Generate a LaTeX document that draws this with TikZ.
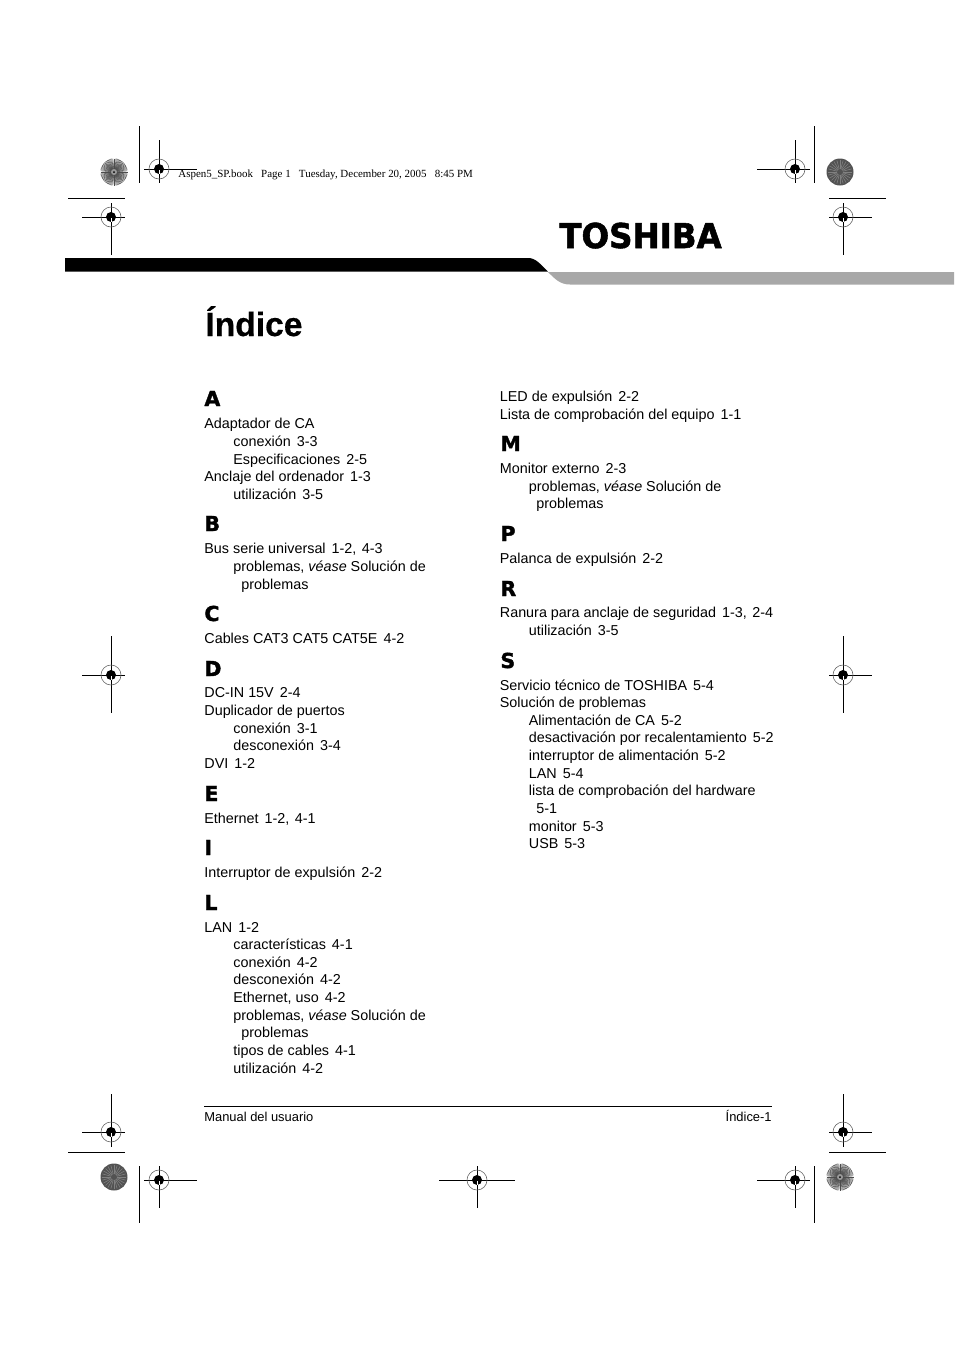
\documentclass[tikz,border=0pt]{standalone}
\usepackage{fontspec}
\setmainfont{Liberation Sans}
\newfontfamily\timesfont{Liberation Serif}
\newfontfamily\logofont[FakeBold=1.6]{DejaVu Sans Bold}
\newfontfamily\titlefont[FakeBold=0.5]{Liberation Sans Bold}
\definecolor{bargray}{HTML}{A8A8A8}
\newcommand{\pg}{\hspace{.42em}}
\newcommand{\cm}{,\hspace{.38em}}
% registration mark: x, y, left, right, up, down arm
\newcommand{\regmark}[6]{
    \draw[cropline] (#1-#3,#2) -- (#1+#4,#2);
    \draw[cropline] (#1,#2-#5) -- (#1,#2+#6);
    \draw[black!60, line width=.3pt] (#1,#2) circle (10);
    \fill (#1,#2) circle (5);
    \draw[white, line width=.25pt] (#1-5,#2) -- (#1,#2) (#1,#2) -- (#1,#2+5);
    \draw[black, line width=.35pt] (#1-5,#2) -- (#1+5,#2);
}
% target balls in the corners
\newcommand{\starball}[2]{
    \fill[white] (#1,#2) circle (13.5);
    \foreach \a in {0,5,...,355}
        \draw[black!70, line width=.26pt] (#1,#2) -- ++(\a:13.5);
    \fill[black!40] (#1,#2) circle (3);
    \fill[black] (#1,#2) circle (1);
}
\newcommand{\darkball}[2]{
    \fill[black!68] (#1,#2) circle (13.5);
    \foreach \a in {0,15,...,345}
        \draw[black!50, line width=.3pt] (#1,#2) ++(\a:3) -- ++(\a:9);
}
\tikzset{
    cropline/.style={black, line width=.5pt},
    entry/.style={anchor=base west, inner sep=0pt, font=\fontsize{7.18}{8}\selectfont},
    letter/.style={anchor=base west, inner sep=0pt, font=\logofont\fontsize{10.3}{11}\selectfont},
}
\begin{document}
\begin{tikzpicture}[x=.5pt, y=-.5pt]
    \useasboundingbox (0,0) rectangle (954,1350);

    % Header bars
    \fill (65,258) -- (528,258) .. controls (536,258) and (540,264) .. (548,271.5) -- (65,271.5) -- cycle;
    \fill[bargray] (548,272) .. controls (555,279) and (560,284.5) .. (570,284.5) -- (954,284.5) -- (954,272) -- cycle;
    \node[anchor=base west, inner sep=0pt, xscale=.95, font=\logofont\fontsize{17.1}{18}\selectfont] (logo) at (559,248) {TOSHIBA};

    % Title and print line
    \node[anchor=base west, inner sep=0pt, font=\titlefont\fontsize{16.8}{18}\selectfont] (title) at (205,336) {Índice};
    \node[anchor=base west, inner sep=0pt, font=\timesfont\fontsize{5.48}{6}\selectfont] (slug) at (178,177.5) {Aspen5\_SP.book\hspace{.5em} Page 1\hspace{.5em} Tuesday, December 20, 2005\hspace{.5em} 8:45 PM};

    % Section letters
    \foreach \x/\y/\t in {204/406/A, 204/531/B, 204/621/C, 204/676/D, 204/801/E, 204/855/I, 204/910/L,
        500/451/M, 500/541/P, 500/596/R, 500/668/S}
        \node[letter] (sec\t) at (\x,\y) {\t};

    % Left column
    \foreach \x/\y/\t [count=\i] in {
        204/428/{Adaptador de CA},
        233/446/{conexión\pg 3-3},
        233/464/{Especificaciones\pg 2-5},
        204/481/{Anclaje del ordenador\pg 1-3},
        233/499/{utilización\pg 3-5},
        204/553/{Bus serie universal\pg 1-2\cm 4-3},
        233/571/{problemas, \emph{véase} Solución de},
        241/589/{problemas},
        204/643/{Cables CAT3 CAT5 CAT5E\pg 4-2},
        204/697/{DC-IN 15V\pg 2-4},
        204/715/{Duplicador de puertos},
        233/733/{conexión\pg 3-1},
        233/750/{desconexión\pg 3-4},
        204/768/{DVI\pg 1-2},
        204/823/{Ethernet\pg 1-2\cm 4-1},
        204/877/{Interruptor de expulsión\pg 2-2},
        204/932/{LAN\pg 1-2},
        233/949/{características\pg 4-1},
        233/967/{conexión\pg 4-2},
        233/984/{desconexión\pg 4-2},
        233/1002/{Ethernet, uso\pg 4-2},
        233/1020/{problemas, \emph{véase} Solución de},
        241/1037/{problemas},
        233/1055/{tipos de cables\pg 4-1},
        233/1073/{utilización\pg 4-2}}
        \node[entry] (left\i) at (\x,\y) {\t};

    % Right column
    \foreach \x/\y/\t [count=\i] in {
        499.5/401/{LED de expulsión\pg 2-2},
        499.5/419/{Lista de comprobación del equipo\pg 1-1},
        499.5/473/{Monitor externo\pg 2-3},
        528.5/491/{problemas, \emph{véase} Solución de},
        536/508/{problemas},
        499.5/563/{Palanca de expulsión\pg 2-2},
        499.5/617/{Ranura para anclaje de seguridad\pg 1-3\cm 2-4},
        528.5/635/{utilización\pg 3-5},
        499.5/690/{Servicio técnico de TOSHIBA\pg 5-4},
        499.5/707/{Solución de problemas},
        528.5/725/{Alimentación de CA\pg 5-2},
        528.5/742/{desactivación por recalentamiento\pg 5-2},
        528.5/760/{interruptor de alimentación\pg 5-2},
        528.5/778/{LAN\pg 5-4},
        528.5/795/{lista de comprobación del hardware},
        536/813/{5-1},
        528.5/831/{monitor\pg 5-3},
        528.5/848/{USB\pg 5-3}}
        \node[entry] (right\i) at (\x,\y) {\t};

    % Footer
    \draw[cropline] (204,1106) -- (772,1106);
    \node[anchor=base west, inner sep=0pt, font=\fontsize{6.45}{7}\selectfont] (manual) at (204,1121) {Manual del usuario};
    \node[anchor=base east, inner sep=0pt, font=\fontsize{6.45}{7}\selectfont] (page) at (772,1121) {Índice-1};

    % Crop lines
    \draw[cropline] (139,126) -- (139,183);
    \draw[cropline] (814,126) -- (814,183);
    \draw[cropline] (68,198) -- (125,198);
    \draw[cropline] (829,198) -- (886,198);
    \draw[cropline] (68,1152) -- (125,1152);
    \draw[cropline] (829,1152) -- (886,1152);
    \draw[cropline] (139,1166) -- (139,1223);
    \draw[cropline] (814,1166) -- (814,1223);

    % Registration marks
    \regmark{159}{169}{15}{38}{29}{14}
    \regmark{795}{169}{38}{15}{29}{14}
    \regmark{111}{217}{29}{14}{14}{38}
    \regmark{843}{217}{14}{29}{14}{38}
    \regmark{111}{675}{29}{14}{39}{38}
    \regmark{843}{675}{14}{29}{39}{38}
    \regmark{111}{1132}{29}{14}{38}{15}
    \regmark{843}{1132}{14}{29}{38}{15}
    \regmark{159}{1180}{15}{38}{14}{28}
    \regmark{477}{1180}{38}{38}{14}{28}
    \regmark{795}{1180}{38}{15}{14}{28}

    % Balls
    \starball{114}{172}
    \darkball{840}{172}
    \darkball{114}{1177}
    \starball{840}{1177}
\end{tikzpicture}
\end{document}
